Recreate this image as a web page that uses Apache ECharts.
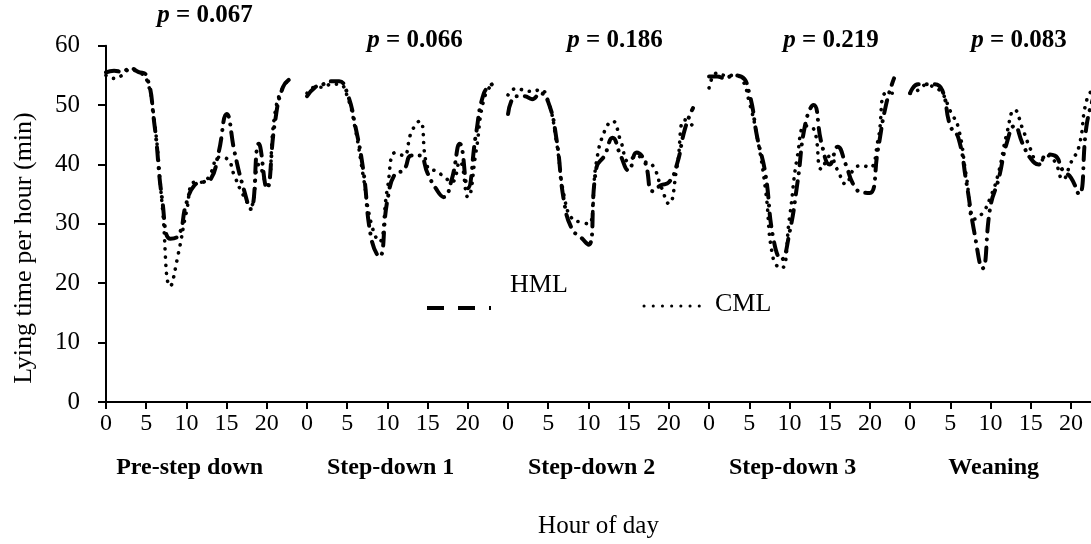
<!DOCTYPE html>
<html><head><meta charset="utf-8">
<script src="https://cdn.jsdelivr.net/npm/echarts@6/dist/echarts.min.js"></script>
<style>html,body{margin:0;padding:0;background:#fff}#c{width:1091px;height:544px}</style>
</head><body><div id="c"></div>
<script>
// ---- data ----
const phases = ['Pre-step down', 'Step-down 1', 'Step-down 2', 'Step-down 3', 'Weaning'];
const pValues = ['0.067', '0.066', '0.186', '0.219', '0.083'];
const hourTicks = [0, 5, 10, 15, 20];
const yTicks = [0, 10, 20, 30, 40, 50, 60];

const preHML  = [55.5, 55.8, 55.6, 56.2, 55.6, 55, 47, 34, 27.5, 28, 33.5, 36.5, 37, 37.5, 42, 48.5, 42, 36.5, 32.5, 43.5, 36, 47, 53, 54.5];
const preCML  = [55, 54.5, 55, 56, 55.5, 54.5, 47.5, 33, 19.5, 25, 32, 37, 37, 38.5, 41.2, 41, 38, 35, 33, 40, 36.5, 48.5, 53, 54.5];
const sd1HML  = [51.5, 53, 53.5, 54, 54, 52, 46.5, 39, 27.5, 24.5, 34, 38.5, 39, 41.5, 41.5, 38.5, 36, 34.5, 37.5, 43.5, 36, 45, 52, 53.5];
const sd1CML  = [52, 53, 53, 53.5, 53.5, 51.5, 46, 38, 30, 27, 36, 42, 41.5, 45.5, 47.3, 39.5, 38.9, 38, 37, 40.5, 34.5, 42, 51, 53.5];
const sd2HML  = [48.5, 51.5, 51.5, 51, 52, 50.5, 44.5, 33.5, 29, 27.8, 26.5, 39.5, 41.5, 44.5, 41.5, 39, 42, 40.5, 35.5, 36.5, 37, 40, 46, 49.5];
const sd2CML  = [51.7, 52.8, 52.5, 52.3, 52.6, 50.6, 44, 34.5, 30.8, 30.3, 30, 40.5, 45.6, 47.3, 44, 40.5, 41.5, 40.5, 39.8, 36.4, 33.4, 39.5, 47.5, 46.5];
const sd3HML  = [54.8, 54.8, 54.5, 55, 54.8, 52, 44.5, 38.5, 27.5, 24, 28.5, 37, 47, 50, 43.5, 40, 43, 40, 36.5, 35.3, 35.2, 42.5, 50, 54.5];
const sd3CML  = [52.9, 55.4, 55, 55, 54.5, 50.5, 44.5, 36, 24, 22.5, 31, 41.5, 46.5, 46, 39.2, 41.4, 39, 36.7, 39.2, 39.8, 39.5, 44, 52, 52];
const weanHML = [52, 53.5, 53.5, 53.5, 52.5, 46.5, 44.5, 37, 28.5, 22.5, 33, 37.5, 43.5, 46.5, 43.5, 41, 40, 41.7, 41.5, 39, 37.8, 35, 47, 52];
const weanCML = [52, 52.5, 53.4, 53, 52, 49, 46.2, 38, 30.8, 31.8, 34.5, 38.6, 45, 49.2, 46, 42.5, 40, 41.5, 40.5, 37.5, 40.3, 43, 51, 53];

// ---- layout ----
const SLOT = 25;            // 24 hours + 1 blank slot per phase
const X_MAX = 122.5;
const FONT = '"Liberation Serif", "Times New Roman", serif';

function build(panels) {
  const out = [];
  panels.forEach((arr, p) => {
    arr.forEach((v, h) => out.push([p * SLOT + h, v]));
    out.push([p * SLOT + 24, '-']);
  });
  return out;
}
const hmlData = build([preHML, sd1HML, sd2HML, sd3HML, weanHML]);
const cmlData = build([preCML, sd1CML, sd2CML, sd3CML, weanCML]);

const xTickValues = [];
phases.forEach((_, p) => hourTicks.forEach(t => xTickValues.push(p * SLOT + t)));
const phaseCenters = phases.map((_, p) => p * SLOT + 10.4);

const pPos = [[205, 16], [415, 41], [615, 41], [831, 41], [1019, 41]];

const chart = echarts.init(document.getElementById('c'), null, {renderer: 'canvas'});
chart.setOption({
  animation: false,
  backgroundColor: '#fff',
  grid: {left: 106, right: 0, top: 45.7, bottom: 139.7, containLabel: false},
  xAxis: [{
    type: 'value', min: 0, max: X_MAX, interval: 5,
    axisLine: {show: true, onZero: false, lineStyle: {color: '#000', width: 2}},
    axisTick: {show: true, length: 7, customValues: xTickValues, lineStyle: {color: '#000', width: 2}},
    axisLabel: {customValues: xTickValues, formatter: v => String(Math.round(v) % SLOT),
      color: '#000', fontFamily: FONT, fontSize: 24, margin: 10},
    splitLine: {show: false},
    name: 'Hour of day', nameLocation: 'middle', nameGap: 112,
    nameTextStyle: {color: '#000', fontFamily: FONT, fontSize: 25}
  }, {
    type: 'value', min: 0, max: X_MAX, position: 'bottom', offset: 0,
    axisLine: {show: false}, axisTick: {show: false}, splitLine: {show: false},
    axisLabel: {customValues: phaseCenters,
      formatter: v => phases[Math.round((v - 10.4) / SLOT)] || '',
      color: '#000', fontFamily: FONT, fontSize: 24, fontWeight: 'bold', margin: 54}
  }],
  yAxis: {
    type: 'value', min: 0, max: 60, interval: 10,
    axisLine: {show: true, lineStyle: {color: '#000', width: 2}},
    axisTick: {show: true, length: 8, lineStyle: {color: '#000', width: 2}},
    axisLabel: {color: '#000', fontFamily: FONT, fontSize: 25, margin: 26,
      formatter: v => yTicks.includes(v) ? String(v) : ''},
    splitLine: {show: false}
  },
  series: [{
    name: 'HML', type: 'line', data: hmlData, xAxisIndex: 0,
    smooth: 0.5, symbol: 'none', connectNulls: false,
    lineStyle: {color: '#000', width: 4, type: [13, 8, 0.1, 8], cap: 'round'}
  }, {
    name: 'CML', type: 'line', data: cmlData, xAxisIndex: 0,
    smooth: 0.5, symbol: 'none', connectNulls: false,
    lineStyle: {color: '#000', width: 3.6, type: [0.1, 8], cap: 'round'}
  }],
  graphic: [
    {type: 'text', x: 24, y: 248, rotation: Math.PI / 2,
      style: {text: 'Lying time per hour (min)', font: '26px ' + FONT, fill: '#000',
        textAlign: 'center', textVerticalAlign: 'middle'}},
    // legend
    {type: 'line', shape: {x1: 427, y1: 308, x2: 491, y2: 308},
      style: {stroke: '#000', lineWidth: 4, lineDash: [17, 14]}},
    {type: 'text', x: 510, y: 285,
      style: {text: 'HML', font: '26px ' + FONT, fill: '#000', textAlign: 'left', textVerticalAlign: 'middle'}},
    {type: 'line', shape: {x1: 644, y1: 306, x2: 708, y2: 306},
      style: {stroke: '#000', lineWidth: 3, lineDash: [0.1, 9.1], lineCap: 'round'}},
    {type: 'text', x: 715, y: 304,
      style: {text: 'CML', font: '26px ' + FONT, fill: '#000', textAlign: 'left', textVerticalAlign: 'middle'}}
  ].concat(pValues.map((pv, i) => ({
    type: 'text', x: pPos[i][0], y: pPos[i][1],
    style: {
      text: '{i|p}{b| = ' + pv + '}',
      textAlign: 'center', textVerticalAlign: 'middle', fill: '#000',
      rich: {
        i: {fontFamily: FONT, fontSize: 25, fontWeight: 'bold', fontStyle: 'italic', fill: '#000'},
        b: {fontFamily: FONT, fontSize: 25, fontWeight: 'bold', fill: '#000'}
      }
    }
  })))
});
</script>
</body></html>
